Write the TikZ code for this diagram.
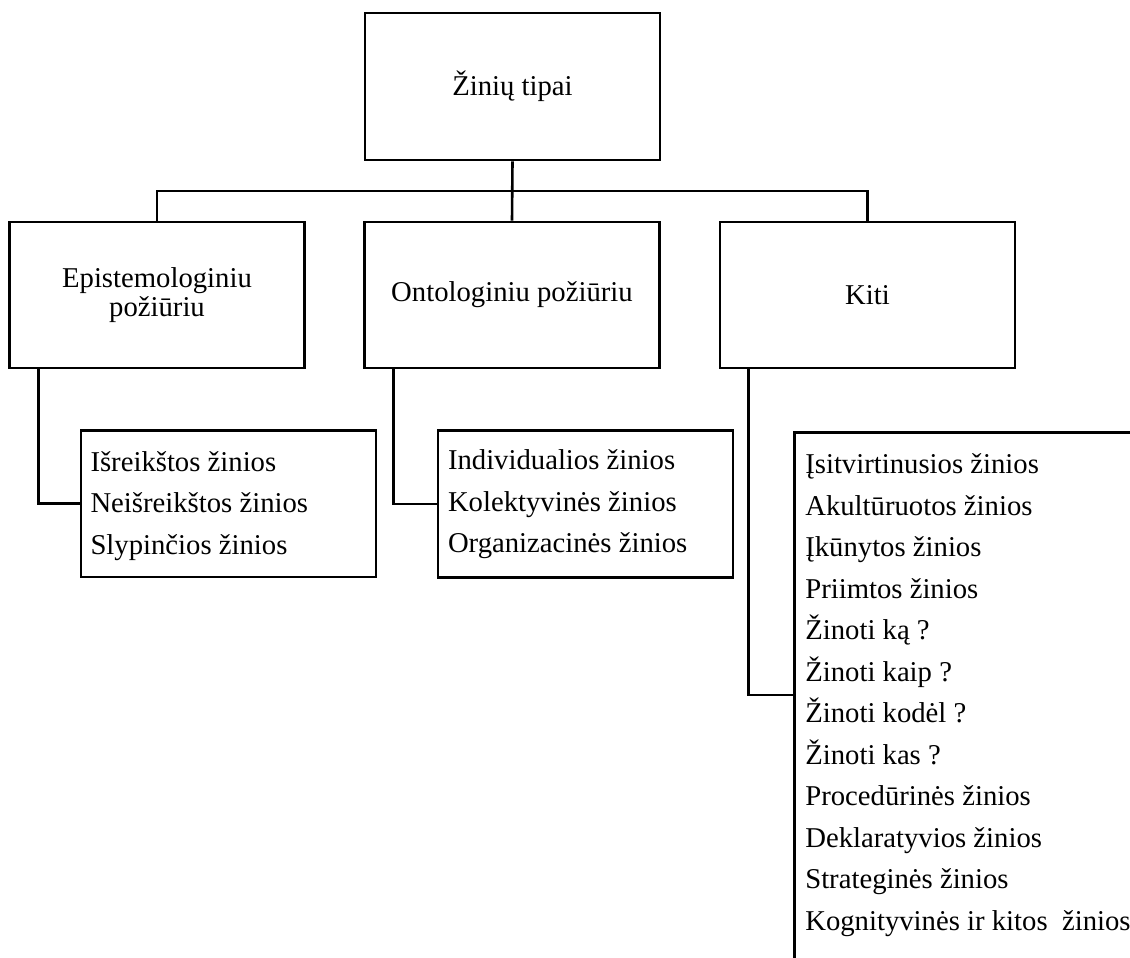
\documentclass[tikz,border=0pt]{standalone}
\usepackage{fontspec}
\setmainfont{Liberation Serif}
\begin{document}
\begin{tikzpicture}[x=1pt,y=1pt,
  line width=2.6pt, line join=miter,
  box/.style={draw, rectangle, inner sep=0pt, minimum width=295pt},
  headbox/.style={box, minimum height=147pt, align=center,
    font=\fontsize{28.7}{29}\selectfont},
  listbox/.style={box, minimum height=146.5pt},
  listtext/.style={anchor=north west, inner sep=0pt, align=left,
    font=\fontsize{28.7}{41.5}\selectfont},
  link/.style={draw}]
\useasboundingbox (0,0) rectangle (1130,-958);
\clip (0,0) rectangle (1130,-958);

% root and the three groups
\node[headbox] (root) at (512.5,-86.5) {Žinių tipai};
\node[headbox, minimum height=146pt] (ep) at (157,-295) {Epistemologiniu\\požiūriu};
\node[headbox, minimum height=146pt] (on) at (512,-295) {Ontologiniu požiūriu};
\node[headbox, minimum height=146pt] (ki) at (867.5,-295) {Kiti};

% lists of the groups
\node[listbox] (eplist) at (228.5,-503.75) {};
\node[listtext] (eptext) at ([xshift=9.5pt,yshift=-14.5pt]eplist.north west)
  {\rule{0pt}{26pt}Išreikštos žinios\\Neišreikštos žinios\\Slypinčios žinios};

\node[listbox] (onlist) at (585.5,-504) {};
\node[listtext] (ontext) at ([xshift=10pt,yshift=-13pt]onlist.north west)
  {\rule{0pt}{26pt}Individualios žinios\\Kolektyvinės žinios\\Organizacinės žinios};

\node[box, anchor=north west, minimum width=420pt, minimum height=600pt] (kilist) at (793,-431) {};
\node[listtext] (kitext) at ([xshift=11pt,yshift=-15.5pt]kilist.north west)
  {\rule{0pt}{26pt}Įsitvirtinusios žinios\\
   Akultūruotos žinios\\
   Įkūnytos žinios\\
   Priimtos žinios\\
   Žinoti ką ?\\
   Žinoti kaip ?\\
   Žinoti kodėl ?\\
   Žinoti kas ?\\
   Procedūrinės žinios\\
   Deklaratyvios žinios\\
   Strateginės žinios\\
   Kognityvinės ir kitos\ \ žinios};

% connectors
\coordinate (bus) at (0,-191);
\draw[link] (root.south) -- (on.north);
\draw[link] (ep.north) -- (ep.north |- bus) -- (ki.north |- bus) -- (ki.north);
\draw[link] ([xshift=30pt]ep.south west) |- (eplist.west);
\draw[link] ([xshift=30pt]on.south west) |- (onlist.west);
\draw[link] ([xshift=30pt]ki.south west) |- ([yshift=-264pt]kilist.north west);
\end{tikzpicture}
\end{document}
